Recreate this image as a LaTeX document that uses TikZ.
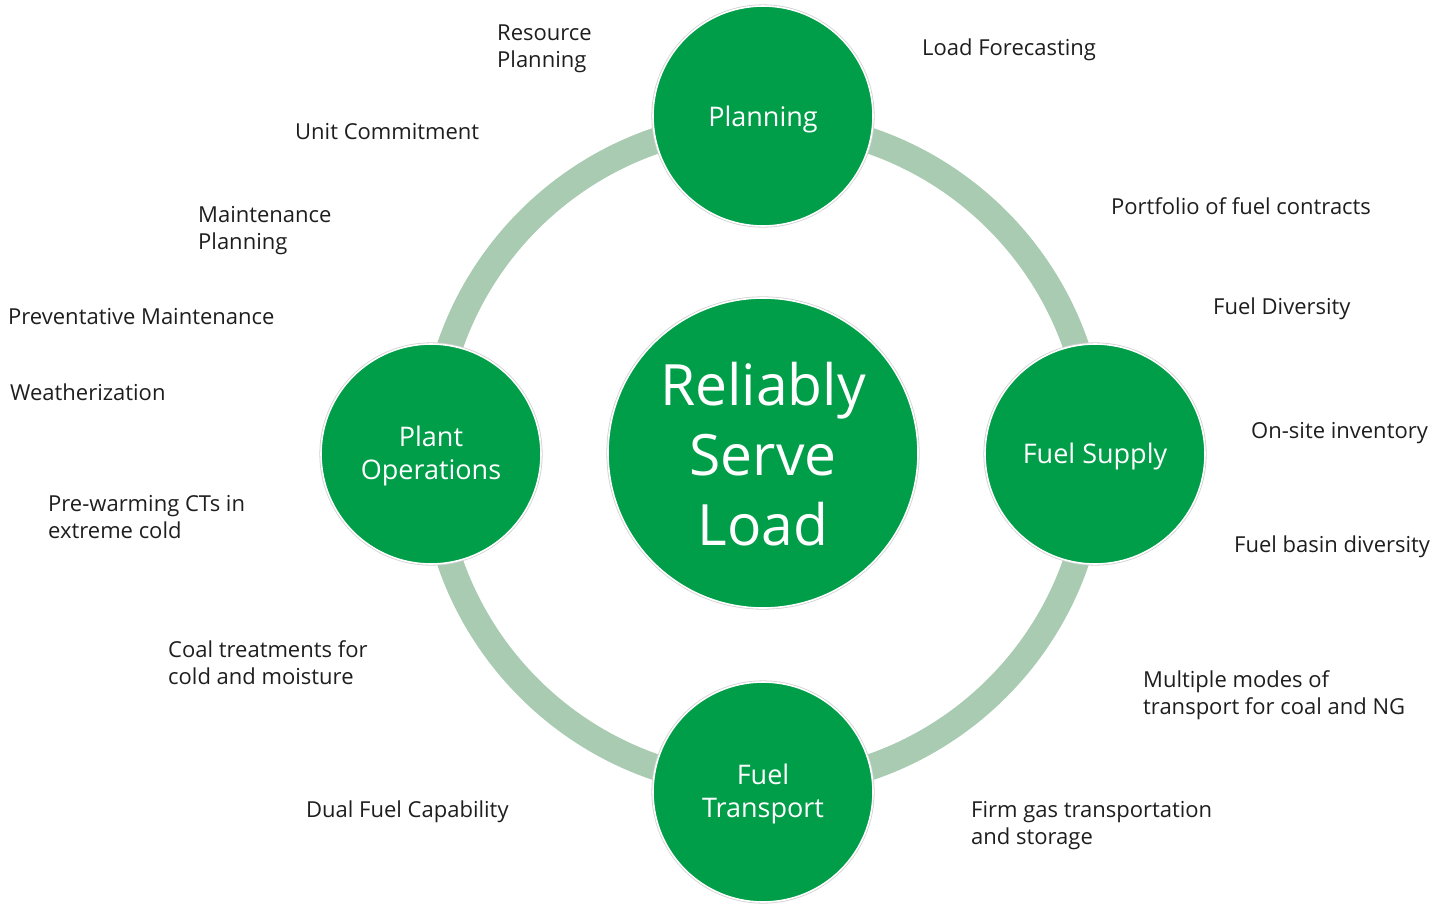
\documentclass[tikz,border=0pt]{standalone}
\usepackage{fontspec}
\setmainfont{Open Sans}
\definecolor{dkgreen}{RGB}{0,158,73}
\definecolor{ringgreen}{RGB}{168,203,177}
\definecolor{txt}{RGB}{30,30,30}
\begin{document}
\begin{tikzpicture}[x=1pt,y=-1pt,
  bubble/.style={circle, fill=dkgreen, draw=white, line width=1.6pt, inner sep=0pt,
    preaction={draw=black!18, line width=3.2pt}},
  small/.style={bubble, minimum size=220pt},
  big/.style={bubble, minimum size=310pt},
  intext/.style={text=white, align=center, inner sep=0pt},
  smalltext/.style={intext, font=\fontsize{27}{33}\selectfont},
  bigtext/.style={intext, font=\fontsize{57}{70}\selectfont},
  lbl/.style={anchor=west, align=left, inner sep=0pt, text=txt, font=\fontsize{22}{27}\selectfont}]
\useasboundingbox (0,0) rectangle (1451,905);
\coordinate (C) at (763,454);
\draw[ringgreen, line width=26pt] (C) circle (331);
\node[big] (center) at (763,453) {};
\node[small] (plan) at (763,116) {};
\node[small] (supply) at (1095,454) {};
\node[small] (plant) at (431,454) {};
\node[small] (trans) at (763,792) {};
\node[bigtext] (centertxt) at ([yshift=-1pt]center.center) {Reliably\\Serve\\Load};
\node[smalltext] (plantxt) at ([yshift=-3pt]plan.center) {Planning};
\node[smalltext] (supplytxt) at ([yshift=-2pt]supply.center) {Fuel Supply};
\node[smalltext] (planttxt) at ([yshift=-2pt]plant.center) {Plant\\Operations};
\node[smalltext] (transtxt) at ([yshift=-2pt]trans.center) {Fuel\\Transport};
% labels
\node[lbl] (l1) at (497,49) {Resource\\Planning};
\node[lbl] (l2) at (295,132) {Unit Commitment};
\node[lbl] (l3) at (198,231) {Maintenance\\Planning};
\node[lbl] (l4) at (8,317) {Preventative Maintenance};
\node[lbl] (l5) at (10,392) {Weatherization};
\node[lbl] (l6) at (48,517) {Pre-warming CTs in\\extreme cold};
\node[lbl] (l7) at (168,663) {Coal treatments for\\cold and moisture};
\node[lbl] (l8) at (306,812) {Dual Fuel Capability};
\node[lbl] (r1) at (922,50) {Load Forecasting};
\node[lbl] (r2) at (1111,206) {Portfolio of fuel contracts};
\node[lbl] (r3) at (1213,309) {Fuel Diversity};
\node[lbl] (r4) at (1251,433) {On-site inventory};
\node[lbl] (r5) at (1234,547) {Fuel basin diversity};
\node[lbl] (r6) at (1143,695) {Multiple modes of\\transport for coal and NG};
\node[lbl] (r7) at (971,826) {Firm gas transportation\\and storage};
\end{tikzpicture}
\end{document}
